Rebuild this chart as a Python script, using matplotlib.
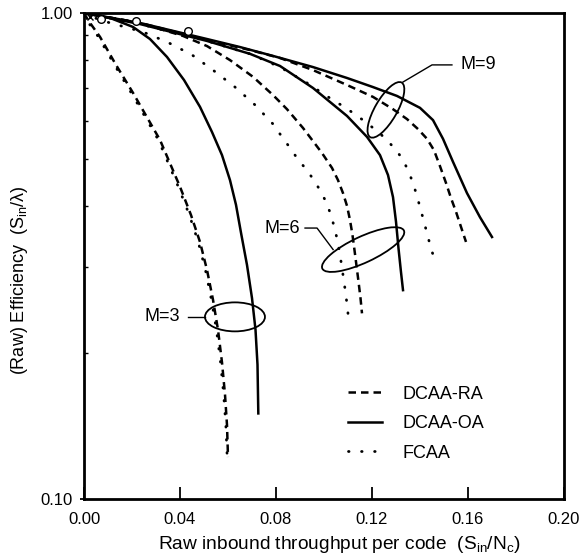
import numpy as np
import matplotlib
matplotlib.use('Agg')
import matplotlib.pyplot as plt
from matplotlib.patches import Ellipse
from matplotlib.transforms import IdentityTransform
from matplotlib.ticker import NullFormatter

plt.rcParams['font.family'] = ['Liberation Sans', 'DejaVu Sans']
plt.rcParams['mathtext.fontset'] = 'custom'
plt.rcParams['mathtext.rm'] = 'Liberation Sans'
plt.rcParams['mathtext.it'] = 'Liberation Sans'
plt.rcParams['mathtext.default'] = 'regular'

# ---- curves (x = throughput per code, y = efficiency) ----
# M=3
m3_ra_x = [0.0, 0.00167, 0.00667, 0.01333, 0.02042, 0.03167, 0.040, 0.04458, 0.04833, 0.05125,
           0.05375, 0.05583, 0.0575, 0.05875, 0.05958, 0.060]
m3_ra_y = [1.0, 0.967, 0.893, 0.782, 0.685, 0.548, 0.439, 0.384, 0.338, 0.296,
           0.257, 0.223, 0.191, 0.164, 0.142, 0.122]
m3_oa_x = [0.0, 0.01083, 0.02042, 0.0275, 0.03458, 0.04167, 0.04833, 0.05333, 0.0575, 0.06083,
           0.06333, 0.06542, 0.06792, 0.070, 0.07146, 0.07229, 0.07263]
m3_oa_y = [1.0, 0.977, 0.936, 0.884, 0.812, 0.728, 0.641, 0.569, 0.510, 0.453,
           0.403, 0.353, 0.303, 0.259, 0.223, 0.189, 0.150]
m3_fc_x = [0.0, 0.0011, 0.0060, 0.0127, 0.0197, 0.0310, 0.0393, 0.0439, 0.0476, 0.0506,
           0.0531, 0.0552, 0.0569, 0.0582, 0.0591, 0.0596]
m3_fc_y = [1.0, 0.967, 0.893, 0.782, 0.685, 0.548, 0.439, 0.384, 0.338, 0.296,
           0.257, 0.223, 0.191, 0.164, 0.142, 0.124]

# M=6
m6_ra_x = [0.0, 0.02333, 0.04125, 0.05125, 0.06083, 0.07042, 0.07875, 0.08458, 0.09125, 0.09542,
           0.09917, 0.10333, 0.10583, 0.10792, 0.10958, 0.11083, 0.11188, 0.11271, 0.11354,
           0.11438, 0.11521, 0.11583]
m6_ra_y = [1.0, 0.954, 0.897, 0.855, 0.800, 0.739, 0.678, 0.634, 0.580, 0.545,
           0.515, 0.480, 0.453, 0.426, 0.401, 0.375, 0.349, 0.325, 0.302,
           0.280, 0.259, 0.241]
m6_oa_x = [0.0, 0.02333, 0.05125, 0.06917, 0.08167, 0.09542, 0.10958, 0.11792, 0.12333, 0.12667,
           0.12875, 0.130, 0.13104, 0.13208, 0.13292]
m6_oa_y = [1.0, 0.949, 0.876, 0.824, 0.778, 0.701, 0.614, 0.556, 0.510, 0.464,
           0.418, 0.372, 0.328, 0.293, 0.269]
m6_fc_x = [0.0, 0.00667, 0.02458, 0.03458, 0.045, 0.05375, 0.06292, 0.07125, 0.07875, 0.0825,
           0.08583, 0.08875, 0.09208, 0.09542, 0.09833, 0.10083, 0.10292, 0.10438, 0.10563,
           0.10667, 0.1075, 0.10833, 0.10917, 0.10979, 0.11042]
m6_fc_y = [1.0, 0.967, 0.914, 0.872, 0.820, 0.763, 0.704, 0.647, 0.591, 0.556,
           0.528, 0.503, 0.480, 0.456, 0.432, 0.409, 0.384, 0.361, 0.340,
           0.318, 0.299, 0.280, 0.262, 0.246, 0.231]

# M=9
m9_ra_x = [0.0, 0.02333, 0.05125, 0.06917, 0.08167, 0.09542, 0.10958, 0.12042, 0.12875, 0.13458,
           0.13917, 0.14292, 0.14583, 0.14833, 0.15083, 0.15292, 0.155, 0.15708, 0.15917]
m9_ra_y = [1.0, 0.954, 0.880, 0.839, 0.808, 0.763, 0.711, 0.672, 0.634, 0.605,
           0.577, 0.551, 0.522, 0.484, 0.447, 0.416, 0.390, 0.363, 0.338]
m9_oa_x = [0.0, 0.02333, 0.05125, 0.065, 0.07875, 0.09542, 0.10958, 0.12042, 0.13042, 0.140,
           0.14542, 0.14958, 0.15375, 0.15958, 0.165, 0.170]
m9_oa_y = [1.0, 0.954, 0.884, 0.851, 0.816, 0.774, 0.735, 0.704, 0.675, 0.638,
           0.602, 0.551, 0.494, 0.426, 0.380, 0.346]
m9_fc_x = [0.0, 0.02333, 0.05125, 0.06917, 0.08167, 0.09292, 0.1025, 0.1075, 0.11208, 0.11667,
           0.12125, 0.12542, 0.12917, 0.1325, 0.135, 0.13708, 0.13875, 0.14021, 0.14167,
           0.14313, 0.14458, 0.14625]
m9_fc_y = [1.0, 0.949, 0.876, 0.824, 0.774, 0.718, 0.668, 0.645, 0.623, 0.600,
           0.576, 0.553, 0.528, 0.503, 0.475, 0.447, 0.420, 0.395, 0.372,
           0.349, 0.328, 0.309]

# simulation points near the origin
sim_x = [0.007, 0.0217, 0.0433]
sim_y = [0.972, 0.962, 0.918]
cross_x = [0.0025]
cross_y = [0.980]

x_ticks = [0.0, 0.04, 0.08, 0.12, 0.16, 0.20]
y_ticks = [0.1, 1.0]
y_tick_labels = ['0.10', '1.00']

# group annotations: label, text pos, leader polyline, ellipse centre (data), size px, angle
groups = [
    ('M=3', (0.0400, 0.237), 'right', [0.0433, 0.0504], [0.237, 0.237], (0.0629, 0.237), 60, 29, 0),
    ('M=6', (0.0900, 0.361), 'right', [0.0921, 0.0971, 0.1038], [0.361, 0.361, 0.326], (0.1163, 0.326), 90, 26, 25),
    ('M=9', (0.1567, 0.782), 'left', [0.1533, 0.1450, 0.1329], [0.782, 0.782, 0.721], (0.1258, 0.632), 63, 22, 60),
]

lw = 1.8
dash_style = (0, (3.0, 2.0))
dot_lw = 2.0
dot_style = (0, (0.2, 4.5))

fig = plt.figure(figsize=(5.83, 5.55), dpi=100)
ax = fig.add_axes([84 / 583, 56 / 555, 480 / 583, 486 / 555])

for xs, ys in [(m3_ra_x, m3_ra_y), (m6_ra_x, m6_ra_y), (m9_ra_x, m9_ra_y)]:
    ax.plot(xs, ys, color='black', lw=lw, linestyle=dash_style)
for xs, ys in [(m3_oa_x, m3_oa_y), (m6_oa_x, m6_oa_y), (m9_oa_x, m9_oa_y)]:
    ax.plot(xs, ys, color='black', lw=lw, linestyle='-')
for xs, ys in [(m3_fc_x, m3_fc_y), (m6_fc_x, m6_fc_y), (m9_fc_x, m9_fc_y)]:
    ax.plot(xs, ys, color='black', lw=dot_lw, linestyle=dot_style, dash_capstyle='round')

ax.plot(sim_x, sim_y, 'o', mfc='white', mec='black', ms=5.5, mew=1.0)
ax.plot(cross_x, cross_y, 'x', color='black', ms=5, mew=1.0)

ax.set_yscale('log')
ax.set_xlim(0, 0.2)
ax.set_ylim(0.1, 1.0)
ax.set_xticks(x_ticks)
ax.set_xticklabels(['%.2f' % v for v in x_ticks])
ax.set_yticks(y_ticks)
ax.set_yticklabels(y_tick_labels)
ax.yaxis.set_minor_formatter(NullFormatter())
ax.tick_params(axis='x', direction='in', length=9, width=1.3, labelsize=12, pad=9)
ax.tick_params(axis='y', which='major', direction='out', length=3, width=1.3, labelsize=12, pad=5)
ax.tick_params(axis='y', which='minor', direction='in', length=3, width=1.0)
for sp in ax.spines.values():
    sp.set_linewidth(2.0)

ax.set_xlabel('Raw inbound throughput per code  $(S_{in}/N_c)$', fontsize=13.8)
ax.xaxis.set_label_coords(0.531, -0.072)
ax.set_ylabel('(Raw) Efficiency  $(S_{in}/\\lambda)$', fontsize=13)
ax.yaxis.set_label_coords(-0.113, 0.45)

fig.canvas.draw()
for label, tpos, ha, lx, ly, cen, w, h, ang in groups:
    ax.text(tpos[0], tpos[1], label, ha=ha, va='center', fontsize=13)
    ax.plot(lx, ly, color='black', lw=1.0, clip_on=False)
    cx, cy = ax.transData.transform(cen)
    ax.add_patch(Ellipse((cx, cy), w, h, angle=ang, fill=False, ec='black', lw=1.3,
                         transform=IdentityTransform()))

h_ra, = ax.plot([], [], color='black', lw=lw, linestyle=dash_style)
h_oa, = ax.plot([], [], color='black', lw=lw, linestyle='-')
h_fc, = ax.plot([], [], color='black', lw=dot_lw, linestyle=dot_style, dash_capstyle='round')
ax.legend([h_ra, h_oa, h_fc], ['DCAA-RA', 'DCAA-OA', 'FCAA'], loc='upper left',
          bbox_to_anchor=(0.55, 0.233), frameon=False, fontsize=13, handlelength=1.9,
          handletextpad=1.1, labelspacing=0.69, borderpad=0, borderaxespad=0)

fig.savefig('out.png', dpi=100)
